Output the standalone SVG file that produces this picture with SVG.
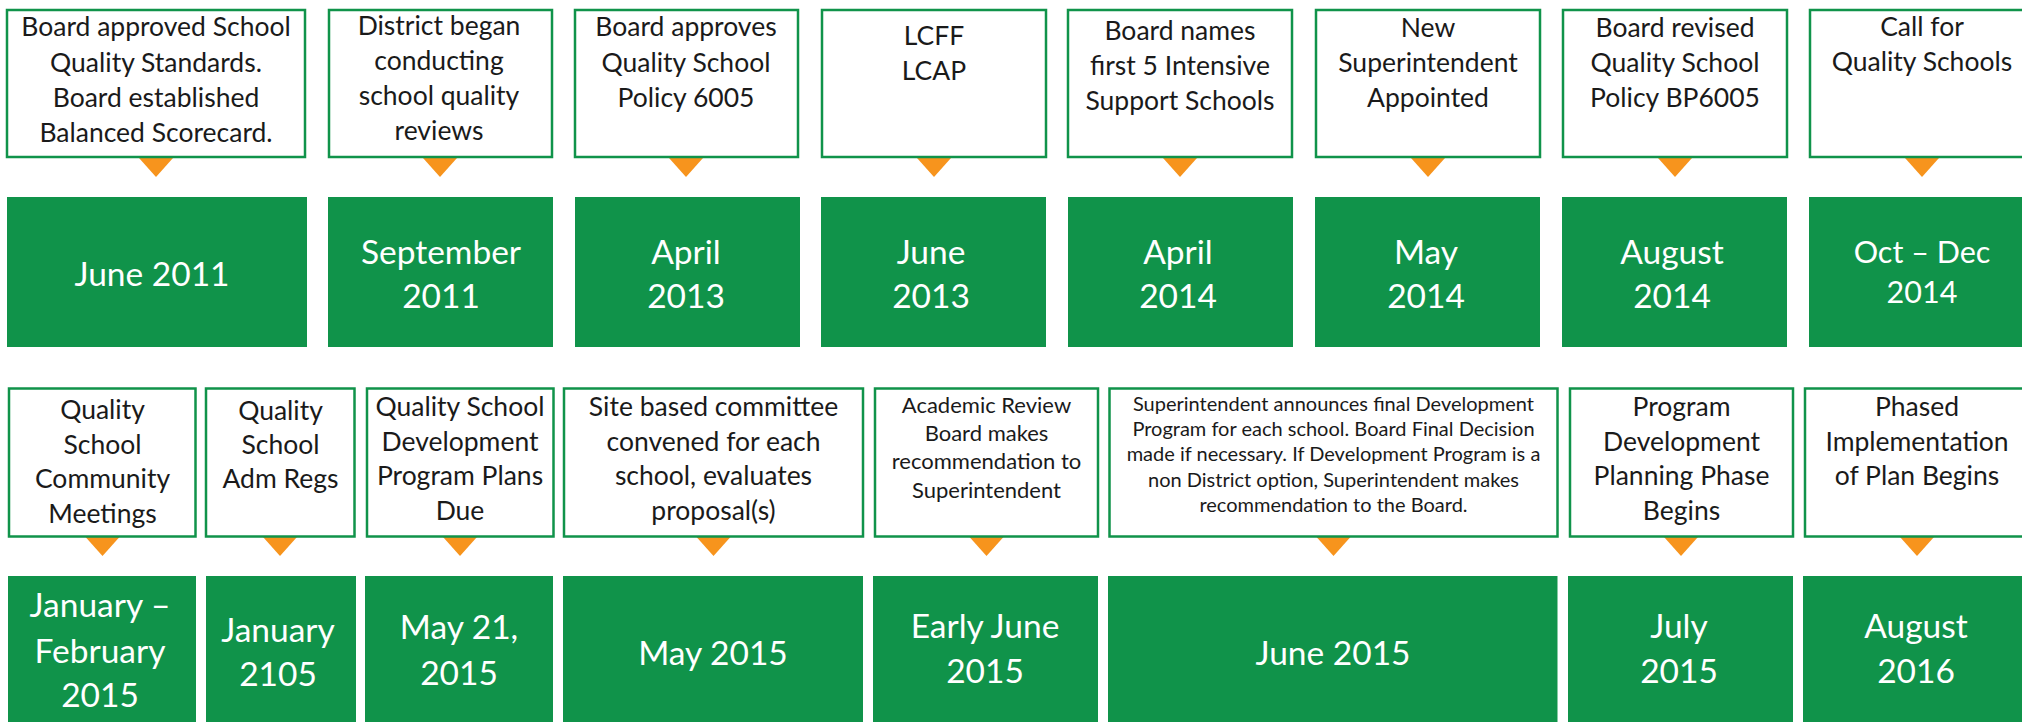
<svg xmlns="http://www.w3.org/2000/svg" width="2022" height="722" viewBox="0 0 2022 722">
<style>
.box{fill:#fff;stroke:#10934A;stroke-width:2.5}
.date{fill:#10934A}
.tri{fill:#F7941D}
text{font-family:Lato,"Open Sans",sans-serif;text-anchor:middle}
.t{font-size:26.5px;fill:#1a1a1a}
.s{font-size:22px;fill:#1a1a1a}
.xs{font-size:20px;fill:#1a1a1a}
.d{font-size:33.5px;fill:#fff}
.ds{font-size:30.5px;fill:#fff}
</style>
<rect width="2022" height="722" fill="#fff"/>
<g id="connectors">
<polygon class="tri" points="139,158 173,158 156,177"/>
<polygon class="tri" points="423,158 457,158 440,177"/>
<polygon class="tri" points="669,158 703,158 686,177"/>
<polygon class="tri" points="917,158 951,158 934,177"/>
<polygon class="tri" points="1163,158 1197,158 1180,177"/>
<polygon class="tri" points="1411,158 1445,158 1428,177"/>
<polygon class="tri" points="1658,158 1692,158 1675,177"/>
<polygon class="tri" points="1905,158 1939,158 1922,177"/>
<polygon class="tri" points="85.5,537 119.5,537 102.5,556"/>
<polygon class="tri" points="263,537 297,537 280,556"/>
<polygon class="tri" points="443,537 477,537 460,556"/>
<polygon class="tri" points="696.5,537 730.5,537 713.5,556"/>
<polygon class="tri" points="969.5,537 1003.5,537 986.5,556"/>
<polygon class="tri" points="1316.5,537 1350.5,537 1333.5,556"/>
<polygon class="tri" points="1664,537 1698,537 1681,556"/>
<polygon class="tri" points="1900,537 1934,537 1917,556"/>
</g>
<g id="n1">
<rect class="box" x="7" y="10" width="298" height="147"/>
<text class="t" x="156" y="36">Board approved School</text>
<text class="t" x="156" y="71.5">Quality Standards.</text>
<text class="t" x="156" y="106.5">Board established</text>
<text class="t" x="156" y="141.5">Balanced Scorecard.</text>
<rect class="date" x="7" y="197" width="300" height="150"/>
<text class="d" x="152" y="286">June 2011</text>
</g>
<g id="n2">
<rect class="box" x="329" y="10" width="223" height="147"/>
<text class="t" x="439" y="35">District began</text>
<text class="t" x="439" y="70">conducting</text>
<text class="t" x="439" y="105">school quality</text>
<text class="t" x="439" y="139.5">reviews</text>
<rect class="date" x="328" y="197" width="225" height="150"/>
<text class="d" x="441" y="264">September</text>
<text class="d" x="441" y="308">2011</text>
</g>
<g id="n3">
<rect class="box" x="575" y="10" width="223" height="147"/>
<text class="t" x="686" y="36">Board approves</text>
<text class="t" x="686" y="71.5">Quality School</text>
<text class="t" x="686" y="106.5">Policy 6005</text>
<rect class="date" x="575" y="197" width="225" height="150"/>
<text class="d" x="686" y="264">April</text>
<text class="d" x="686" y="308">2013</text>
</g>
<g id="n4">
<rect class="box" x="822" y="10" width="224" height="147"/>
<text class="t" x="934" y="45">LCFF</text>
<text class="t" x="934" y="80">LCAP</text>
<rect class="date" x="821" y="197" width="225" height="150"/>
<text class="d" x="931" y="264">June</text>
<text class="d" x="931" y="308">2013</text>
</g>
<g id="n5">
<rect class="box" x="1068" y="10" width="224" height="147"/>
<text class="t" x="1180" y="40">Board names</text>
<text class="t" x="1180" y="75">first 5 Intensive</text>
<text class="t" x="1180" y="109.5">Support Schools</text>
<rect class="date" x="1068" y="197" width="225" height="150"/>
<text class="d" x="1178" y="264">April</text>
<text class="d" x="1178" y="308">2014</text>
</g>
<g id="n6">
<rect class="box" x="1316" y="10" width="224" height="147"/>
<text class="t" x="1428" y="36.5">New</text>
<text class="t" x="1428" y="71.5">Superintendent</text>
<text class="t" x="1428" y="106.5">Appointed</text>
<rect class="date" x="1315" y="197" width="225" height="150"/>
<text class="d" x="1426" y="264">May</text>
<text class="d" x="1426" y="308">2014</text>
</g>
<g id="n7">
<rect class="box" x="1563" y="10" width="224" height="147"/>
<text class="t" x="1675" y="36.5">Board revised</text>
<text class="t" x="1675" y="71.5">Quality School</text>
<text class="t" x="1675" y="106.5">Policy BP6005</text>
<rect class="date" x="1562" y="197" width="225" height="150"/>
<text class="d" x="1672" y="264">August</text>
<text class="d" x="1672" y="308">2014</text>
</g>
<g id="n8">
<rect class="box" x="1810" y="10" width="230" height="147"/>
<text class="t" x="1922" y="36">Call for</text>
<text class="t" x="1922" y="71">Quality Schools</text>
<rect class="date" x="1809" y="197" width="231" height="150"/>
<text class="ds" x="1922" y="263">Oct – Dec</text>
<text class="ds" x="1922" y="303">2014</text>
</g>
<g id="n9">
<rect class="box" x="9" y="388.5" width="186.5" height="148"/>
<text class="t" x="102.5" y="419">Quality</text>
<text class="t" x="102.5" y="453.5">School</text>
<text class="t" x="102.5" y="488">Community</text>
<text class="t" x="102.5" y="522.5">Meetings</text>
<rect class="date" x="8" y="576" width="188" height="160"/>
<text class="d" x="100" y="616.5">January –</text>
<text class="d" x="100" y="662.5">February</text>
<text class="d" x="100" y="706.5">2015</text>
</g>
<g id="n10">
<rect class="box" x="206" y="388.5" width="148.5" height="148"/>
<text class="t" x="280.5" y="420">Quality</text>
<text class="t" x="280.5" y="454">School</text>
<text class="t" x="280.5" y="488">Adm Regs</text>
<rect class="date" x="206" y="576" width="150" height="160"/>
<text class="d" x="278" y="641.5">January</text>
<text class="d" x="278" y="686">2105</text>
</g>
<g id="n11">
<rect class="box" x="367" y="388.5" width="186.5" height="148"/>
<text class="t" x="460" y="416">Quality School</text>
<text class="t" x="460" y="450.5">Development</text>
<text class="t" x="460" y="485">Program Plans</text>
<text class="t" x="460" y="520">Due</text>
<rect class="date" x="365" y="576" width="188" height="160"/>
<text class="d" x="459" y="639">May 21,</text>
<text class="d" x="459" y="685">2015</text>
</g>
<g id="n12">
<rect class="box" x="564" y="388.5" width="299" height="148"/>
<text class="t" x="713.5" y="416">Site based committee</text>
<text class="t" x="713.5" y="450.5">convened for each</text>
<text class="t" x="713.5" y="485">school, evaluates</text>
<text class="t" x="713.5" y="520">proposal(s)</text>
<rect class="date" x="563" y="576" width="300" height="160"/>
<text class="d" x="713" y="665">May 2015</text>
</g>
<g id="n13">
<rect class="box" x="875" y="388.5" width="223" height="148"/>
<text class="s" x="986.5" y="412.5">Academic Review</text>
<text class="s" x="986.5" y="440.5">Board makes</text>
<text class="s" x="986.5" y="469">recommendation to</text>
<text class="s" x="986.5" y="497.5">Superintendent</text>
<rect class="date" x="873" y="576" width="225" height="160"/>
<text class="d" x="985" y="638">Early June</text>
<text class="d" x="985" y="682.5">2015</text>
</g>
<g id="n14">
<rect class="box" x="1109.5" y="388.5" width="448" height="148"/>
<text class="xs" x="1333.5" y="410.5">Superintendent announces final Development</text>
<text class="xs" x="1333.5" y="435.5">Program for each school. Board Final Decision</text>
<text class="xs" x="1333.5" y="460.5">made if necessary. If Development Program is a</text>
<text class="xs" x="1333.5" y="486.5">non District option, Superintendent makes</text>
<text class="xs" x="1333.5" y="511.5">recommendation to the Board.</text>
<rect class="date" x="1108" y="576" width="449.5" height="160"/>
<text class="d" x="1333" y="665">June 2015</text>
</g>
<g id="n15">
<rect class="box" x="1570" y="388.5" width="223" height="148"/>
<text class="t" x="1681.5" y="416">Program</text>
<text class="t" x="1681.5" y="450.5">Development</text>
<text class="t" x="1681.5" y="485">Planning Phase</text>
<text class="t" x="1681.5" y="520">Begins</text>
<rect class="date" x="1568" y="576" width="225" height="160"/>
<text class="d" x="1679" y="638">July</text>
<text class="d" x="1679" y="682.5">2015</text>
</g>
<g id="n16">
<rect class="box" x="1805" y="388.5" width="230" height="148"/>
<text class="t" x="1917" y="416">Phased</text>
<text class="t" x="1917" y="450.5">Implementation</text>
<text class="t" x="1917" y="485">of Plan Begins</text>
<rect class="date" x="1803" y="576" width="237" height="160"/>
<text class="d" x="1916" y="638">August</text>
<text class="d" x="1916" y="682.5">2016</text>
</g>
</svg>
